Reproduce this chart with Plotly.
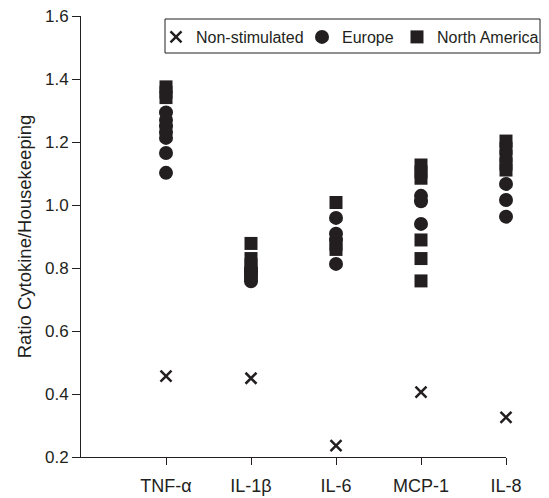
import plotly.graph_objects as go

categories = ["TNF-α", "IL-1β", "IL-6", "MCP-1", "IL-8"]
cat_pos = [1, 2, 3, 4, 5]

non_stimulated = [0.457, 0.450, 0.236, 0.406, 0.326]

europe = [
    [1.294, 1.27, 1.25, 1.23, 1.213, 1.165, 1.102],
    [0.80, 0.79, 0.78, 0.77, 0.758],
    [0.959, 0.909, 0.89, 0.813],
    [1.029, 1.012, 0.94],
    [1.067, 1.016, 0.963],
]

north_america = [
    [1.375, 1.358, 1.341],
    [0.878, 0.83, 0.81],
    [1.008, 0.875, 0.859],
    [1.127, 1.105, 1.085, 0.889, 0.83, 0.759],
    [1.203, 1.18, 1.155, 1.13, 1.111],
]

y_ticks = [0.2, 0.4, 0.6, 0.8, 1.0, 1.2, 1.4, 1.6]

INK = "#231f20"
FONT = "Liberation Sans, Arial, sans-serif"

W, H = 549, 498
ML, MR, MT, MB = 81, 43, 16, 41
PW, PH = W - ML - MR, H - MT - MB


def px_x(p):
    return (p - ML) / PW


def px_y(p):
    return (H - MB - p) / PH


def flatten(groups):
    xs, ys = [], []
    for p, vals in zip(cat_pos, groups):
        for v in vals:
            xs.append(p)
            ys.append(v)
    return xs, ys


fig = go.Figure()

fig.add_trace(go.Scatter(
    x=cat_pos, y=non_stimulated, mode="markers", name="Non-stimulated",
    marker=dict(symbol="x-thin", size=11, color=INK, line=dict(color=INK, width=2.5)),
    cliponaxis=False, legend="legend",
))

ex, ey = flatten(europe)
fig.add_trace(go.Scatter(
    x=ex, y=ey, mode="markers", name="Europe",
    marker=dict(symbol="circle", size=14, color=INK, line=dict(width=0)),
    cliponaxis=False, legend="legend2",
))

nx, ny = flatten(north_america)
fig.add_trace(go.Scatter(
    x=nx, y=ny, mode="markers", name="North America",
    marker=dict(symbol="square", size=13, color=INK, line=dict(width=0)),
    cliponaxis=False, legend="legend3",
))


def leg(left_px):
    return dict(
        x=px_x(left_px), y=px_y(20), xanchor="left", yanchor="top",
        borderwidth=0, bgcolor="rgba(255,255,255,0)",
        font=dict(size=16, family=FONT, color=INK),
        itemclick=False, itemdoubleclick=False,
    )


fig.update_layout(
    width=W, height=H,
    margin=dict(l=ML, r=MR, t=MT, b=MB, pad=0, autoexpand=False),
    paper_bgcolor="white", plot_bgcolor="white",
    font=dict(family=FONT, color=INK, size=16),
    showlegend=True,
    legend=leg(156),
    legend2=leg(302),
    legend3=leg(397),
    shapes=[dict(
        type="rect", xref="paper", yref="paper",
        x0=px_x(165), x1=px_x(540), y0=px_y(53), y1=px_y(19),
        line=dict(color=INK, width=1), fillcolor="rgba(0,0,0,0)",
    )],
    xaxis=dict(
        range=[0, 5], tickvals=cat_pos, ticktext=categories,
        showline=True, linecolor=INK, linewidth=1,
        ticks="outside", ticklen=7, tickcolor=INK, tickwidth=1,
        showgrid=False, zeroline=False, ticklabelstandoff=5, automargin=False,
        tickfont=dict(size=18, family=FONT, color=INK),
    ),
    yaxis=dict(
        range=[0.2, 1.6], tickvals=y_ticks, tickformat=".1f",
        showline=True, linecolor=INK, linewidth=1,
        ticks="outside", ticklen=8, tickcolor=INK, tickwidth=1,
        showgrid=False, zeroline=False, automargin=False,
        tickfont=dict(size=17, family=FONT, color=INK),
        title=dict(text="Ratio Cytokine/Housekeeping", standoff=8,
                   font=dict(size=18.5, family=FONT, color=INK)),
    ),
)

fig.write_html("out.html")
